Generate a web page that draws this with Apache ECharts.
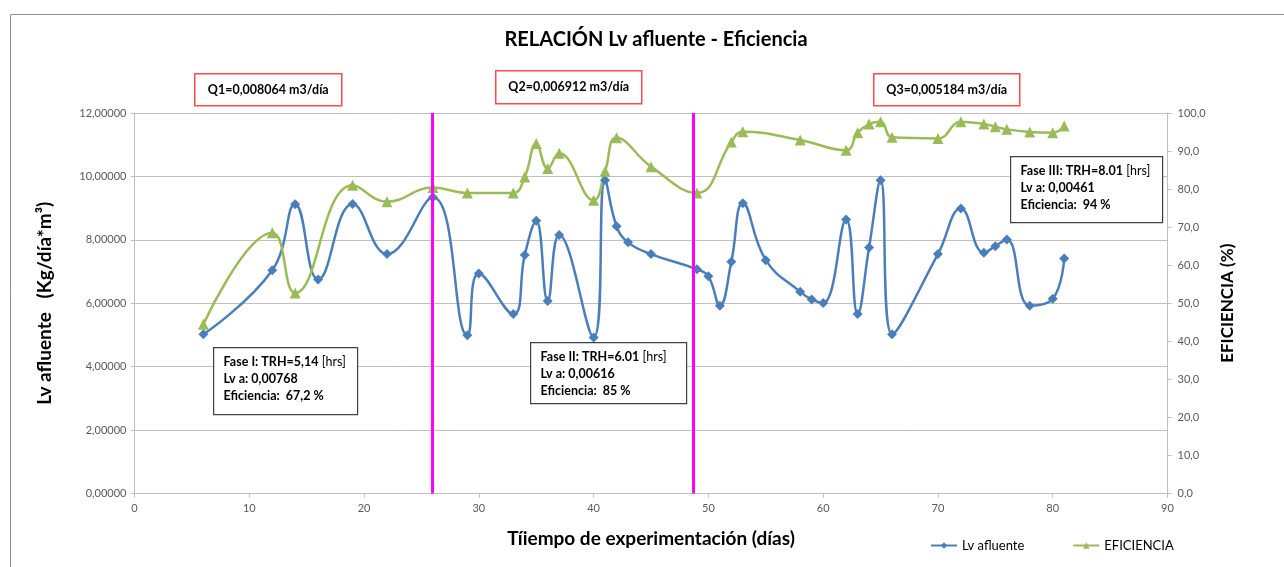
<!DOCTYPE html>
<html>
<head>
<meta charset="utf-8">
<script src="https://cdn.jsdelivr.net/npm/echarts@6/dist/echarts.min.js"></script>
<style>
  html, body { margin: 0; padding: 0; background: #fff; }
  #chart { width: 1284px; height: 567px; }
</style>
</head>
<body>
<div id="chart"></div>
<script>
const diasLv = [6, 12, 14, 16, 19, 22, 26, 29, 30, 33, 34, 35, 36, 37, 40, 41, 42, 43, 45, 49, 50, 51, 52, 53, 55, 58, 59, 60, 62, 63, 64, 65, 66, 70, 72, 74, 75, 76, 78, 80, 81]
const lvAfluente = [5.02, 7.04, 9.12, 6.75, 9.13, 7.55, 9.34, 4.99, 6.94, 5.66, 7.52, 8.6, 6.07, 8.15, 4.92, 9.88, 8.43, 7.92, 7.55, 7.07, 6.85, 5.92, 7.31, 9.15, 7.36, 6.36, 6.12, 6.01, 8.64, 5.66, 7.76, 9.88, 5.02, 7.55, 8.99, 7.59, 7.8, 8.01, 5.92, 6.14, 7.41]
const diasEf = [6, 12, 14, 19, 22, 26, 29, 33, 34, 35, 36, 37, 40, 41, 42, 45, 49, 52, 53, 58, 62, 63, 64, 65, 66, 70, 72, 74, 75, 76, 78, 80, 81]
const eficiencia = [44.5, 68.5, 52.7, 81.0, 76.7, 80.4, 79.0, 79.0, 83.2, 92.0, 85.4, 89.4, 77.1, 84.7, 93.5, 85.9, 79.0, 92.4, 95.1, 92.9, 90.2, 94.8, 97.1, 97.7, 93.6, 93.3, 97.7, 97.1, 96.4, 95.7, 95.0, 94.8, 96.6]
// limites entre fases (dias)
const limitesFase = [25.9, 48.7]
const caudales = ['Q1=0,008064 m3/día', 'Q2=0,006912 m3/día', 'Q3=0,005184 m3/día']

const FONT = 'Lato, "Open Sans", sans-serif'
const AXIS_TXT = '#595959'
const GRID_CLR = '#bfbfbf'

function pairs (xs, ys) {
  return xs.map((x, i) => [x, ys[i]])
}

function notaFase (left, top, w, h, linea1, linea2, linea3) {
  return {
    type: 'group',
    left: left,
    top: top,
    z: 100,
    children: [
      {
        type: 'rect',
        z: 100,
        shape: { x: 0, y: 0, width: w, height: h },
        style: { fill: '#fff', stroke: '#404040', lineWidth: 1.2 }
      },
      {
        type: 'text',
        z: 101,
        x: 10,
        y: 6,
        style: {
          text: '{b|' + linea1 + '} {n|[hrs]}\n{b|' + linea2 + '}\n{b|' + linea3 + '}',
          rich: {
            b: { fontFamily: FONT, fontWeight: 'bold', fontSize: 12.5, lineHeight: 17, fill: '#000' },
            n: { fontFamily: FONT, fontSize: 12.5, lineHeight: 17, fill: '#000' }
          }
        }
      }
    ]
  }
}

function cajaQ (left, top, w, h, txt) {
  return {
    type: 'group',
    left: left,
    top: top,
    z: 100,
    children: [
      {
        type: 'rect',
        z: 100,
        shape: { x: 0, y: 0, width: w, height: h },
        style: { fill: '#fff', stroke: '#ff4b4b', lineWidth: 1.5 }
      },
      {
        type: 'text',
        z: 101,
        x: w / 2,
        y: h / 2,
        style: {
          text: txt,
          fontFamily: FONT,
          fontWeight: 'bold',
          fontSize: 12.5,
          fill: '#000',
          align: 'center',
          verticalAlign: 'middle'
        }
      }
    ]
  }
}

let chart = echarts.init(document.getElementById('chart'))
let option = {
  backgroundColor: '#fff',
  animation: false,
  title: {
    text: 'RELACIÓN Lv afluente - Eficiencia',
    left: 651,
    textAlign: 'center',
    top: 25,
    textStyle: { fontFamily: FONT, fontWeight: 'bold', fontSize: 20, color: '#000' }
  },
  grid: {
    left: 134.5,
    right: 116.5,
    top: 113,
    bottom: 73.5
  },
  legend: {
    left: 925,
    top: 534,
    itemWidth: 26,
    itemHeight: 8,
    itemGap: 48,
    textStyle: { fontFamily: FONT, fontSize: 13, color: '#000' },
    data: ['Lv afluente', 'EFICIENCIA']
  },
  xAxis: {
    type: 'value',
    min: 0,
    max: 90,
    interval: 10,
    name: 'Tíiempo de experimentación (días)',
    nameLocation: 'middle',
    nameGap: 36,
    nameTextStyle: { fontFamily: FONT, fontWeight: 'bold', fontSize: 19, color: '#000' },
    axisLine: { onZero: false, lineStyle: { color: GRID_CLR } },
    axisTick: { show: true, length: 4, lineStyle: { color: GRID_CLR } },
    axisLabel: { fontFamily: FONT, fontSize: 11, color: AXIS_TXT, margin: 9 },
    splitLine: { show: false }
  },
  yAxis: [
    {
      type: 'value',
      min: 0,
      max: 12,
      interval: 2,
      name: 'Lv afluente   (Kg/día*m³)',
      nameLocation: 'middle',
      nameGap: 80,
      nameTextStyle: { fontFamily: FONT, fontWeight: 'bold', fontSize: 19, color: '#000' },
      axisLine: { show: true, lineStyle: { color: GRID_CLR } },
      axisTick: { show: true, length: 4, lineStyle: { color: GRID_CLR } },
      axisLabel: {
        fontFamily: FONT,
        fontSize: 11,
        color: AXIS_TXT,
        margin: 8,
        formatter: v => v.toFixed(5).replace('.', ',')
      },
      splitLine: { show: true, lineStyle: { color: GRID_CLR, width: 1 } }
    },
    {
      type: 'value',
      min: 0,
      max: 100,
      interval: 10,
      position: 'right',
      name: 'EFICIENCIA (%)',
      nameLocation: 'middle',
      nameGap: 52,
      nameTextStyle: { fontFamily: FONT, fontWeight: 'bold', fontSize: 17, color: '#000' },
      axisLine: { show: true, lineStyle: { color: GRID_CLR } },
      axisTick: { show: true, length: 4, lineStyle: { color: GRID_CLR } },
      axisLabel: {
        fontFamily: FONT,
        fontSize: 11,
        color: AXIS_TXT,
        margin: 10,
        formatter: v => v.toFixed(1).replace('.', ',')
      },
      splitLine: { show: false }
    }
  ],
  series: [
    {
      name: 'Lv afluente',
      type: 'line',
      yAxisIndex: 0,
      smooth: 0.45,
      symbol: 'diamond',
      symbolSize: 10,
      itemStyle: { color: '#4a7ebb' },
      lineStyle: { color: '#4a7ebb', width: 2.5 },
      data: pairs(diasLv, lvAfluente),
      markLine: {
        silent: true,
        symbol: 'none',
        label: { show: false },
        lineStyle: { color: '#ff00ff', width: 3, type: 'solid' },
        data: limitesFase.map(d => ({ xAxis: d }))
      },
      z: 3
    },
    {
      name: 'EFICIENCIA',
      type: 'line',
      yAxisIndex: 1,
      smooth: 0.45,
      symbol: 'triangle',
      symbolSize: 11,
      itemStyle: { color: '#9bbb59' },
      lineStyle: { color: '#9bbb59', width: 2.5 },
      data: pairs(diasEf, eficiencia),
      z: 3
    }
  ],
  graphic: [
    {
      type: 'rect',
      left: 8,
      top: 12,
      z: -10,
      shape: { x: 0, y: 0, width: 1290, height: 570 },
      style: { fill: 'none', stroke: '#8c8c8c', lineWidth: 1 }
    },
    cajaQ(194, 73, 147, 32, caudales[0]),
    cajaQ(495, 70, 146, 33, caudales[1]),
    cajaQ(873, 73, 146, 32, caudales[2]),
    notaFase(213, 347, 144, 67, 'Fase I: TRH=5,14', 'Lv a: 0,00768', 'Eficiencia:  67,2 %'),
    notaFase(530, 342, 156, 61, 'Fase II: TRH=6.01', 'Lv a: 0,00616', 'Eficiencia:  85 %'),
    notaFase(1010, 156, 152, 66, 'Fase III: TRH=8.01', 'Lv a: 0,00461', 'Eficiencia:  94 %')
  ]
}
chart.setOption(option)
</script>
</body>
</html>
